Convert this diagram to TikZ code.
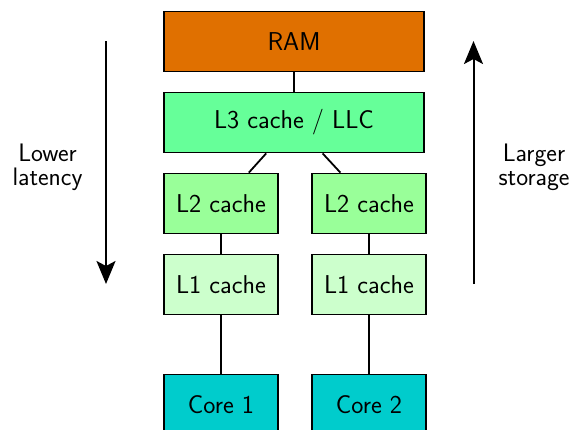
\documentclass[tikz,border=0pt]{standalone}
\usetikzlibrary{arrows.meta}
\definecolor{ramc}{HTML}{E07000}
\definecolor{lthree}{HTML}{66FF99}
\definecolor{ltwo}{HTML}{99FF99}
\definecolor{lone}{HTML}{CCFFCC}
\definecolor{corec}{HTML}{00CCCC}
\begin{document}
\begin{tikzpicture}[x=1pt,y=-1pt,
  box/.style={draw=black,line width=1.8pt,inner sep=0pt,minimum height=60pt,
    font=\sffamily\fontsize{25.8}{28}\selectfont},
  wide/.style={box,minimum width=260pt},
  narrow/.style={box,minimum width=114pt},
  conn/.style={line width=1.8pt},
  bigarrow/.style={line width=2pt,-{Stealth[length=23pt,width=19pt,inset=5pt]}},
  side/.style={align=center,inner sep=0pt,font=\sffamily\fontsize{25.3}{23.5}\selectfont}]
\useasboundingbox (0,0) rectangle (573,429);
\node[wide,fill=ramc] (ram) at (294,41.5) {RAM};
\node[wide,fill=lthree] (l3) at (294,122.5) {L3 cache / LLC};
\node[narrow,fill=ltwo] (l2a) at (221,203.5) {L2 cache};
\node[narrow,fill=ltwo] (l2b) at (369,203.5) {L2 cache};
\node[narrow,fill=lone] (l1a) at (221,284.5) {L1 cache};
\node[narrow,fill=lone] (l1b) at (369,284.5) {L1 cache};
\node[narrow,fill=corec] (c1) at (221,404.5) {Core 1};
\node[narrow,fill=corec] (c2) at (369,404.5) {Core 2};
\draw[conn] (ram) -- (l3);
\draw[conn] (l3) -- (l2a);
\draw[conn] (l3) -- (l2b);
\draw[conn] (l2a) -- (l1a);
\draw[conn] (l2b) -- (l1b);
\draw[conn] (l1a) -- (c1);
\draw[conn] (l1b) -- (c2);
\coordinate (la) at (106,41);
\coordinate (lb) at (106,284);
\coordinate (ra) at (473.5,284);
\coordinate (rb) at (473.5,41);
\draw[bigarrow] (la) -- (lb);
\draw[bigarrow] (ra) -- (rb);
\node[side] (lt) at (47.5,167.4) {Lower\\latency};
\node[side] (rt) at (534,167.4) {Larger\\storage};
\end{tikzpicture}
\end{document}
